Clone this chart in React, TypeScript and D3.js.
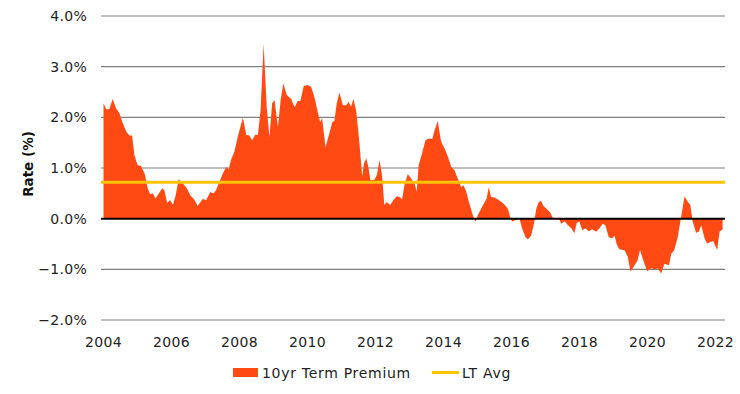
import React from "react";
import * as d3 from "d3";

// decimal years, paired with the 10yr term premium (%)
const years = [
  2004.0, 2004.08, 2004.17, 2004.27, 2004.37, 2004.47, 2004.57, 2004.67, 2004.76, 2004.84,
  2004.91, 2005.0, 2005.1, 2005.21, 2005.3, 2005.37, 2005.45, 2005.53, 2005.63, 2005.73,
  2005.79, 2005.87, 2005.96, 2006.04, 2006.12, 2006.21, 2006.33, 2006.45, 2006.55, 2006.68,
  2006.77, 2006.82, 2006.92, 2007.02, 2007.14, 2007.24, 2007.31, 2007.41, 2007.51, 2007.61,
  2007.68, 2007.75, 2007.85, 2007.95, 2008.1, 2008.2, 2008.29, 2008.37, 2008.47, 2008.54,
  2008.62, 2008.71, 2008.8, 2008.88, 2008.96, 2009.03, 2009.13, 2009.21, 2009.29, 2009.39,
  2009.52, 2009.62, 2009.71, 2009.79, 2009.89, 2010.01, 2010.11, 2010.21, 2010.3, 2010.37,
  2010.43, 2010.53, 2010.63, 2010.73, 2010.79, 2010.86, 2010.94, 2011.04, 2011.14, 2011.21,
  2011.28, 2011.35, 2011.43, 2011.51, 2011.61, 2011.66, 2011.73, 2011.79, 2011.85, 2011.97,
  2012.04, 2012.12, 2012.19, 2012.26, 2012.33, 2012.43, 2012.53, 2012.63, 2012.71, 2012.78,
  2012.85, 2012.95, 2013.05, 2013.15, 2013.21, 2013.27, 2013.37, 2013.47, 2013.57, 2013.67,
  2013.74, 2013.83, 2013.93, 2014.03, 2014.13, 2014.23, 2014.32, 2014.42, 2014.52, 2014.59,
  2014.67, 2014.76, 2014.86, 2014.94, 2015.01, 2015.11, 2015.21, 2015.27, 2015.33, 2015.4,
  2015.5, 2015.6, 2015.7, 2015.79, 2015.89, 2015.96, 2016.02, 2016.12, 2016.24, 2016.31,
  2016.41, 2016.48, 2016.58, 2016.66, 2016.73, 2016.8, 2016.87, 2016.94, 2017.04, 2017.14,
  2017.21, 2017.29, 2017.39, 2017.46, 2017.56, 2017.66, 2017.76, 2017.85, 2017.92, 2018.0,
  2018.08, 2018.18, 2018.27, 2018.37, 2018.49, 2018.59, 2018.68, 2018.76, 2018.86, 2018.96,
  2019.03, 2019.1, 2019.18, 2019.32, 2019.42, 2019.5, 2019.62, 2019.71, 2019.78, 2019.86,
  2019.99, 2020.11, 2020.21, 2020.3, 2020.4, 2020.5, 2020.63, 2020.7, 2020.79, 2020.89,
  2020.99, 2021.09, 2021.19, 2021.26, 2021.33, 2021.43, 2021.51, 2021.58, 2021.68, 2021.75,
  2021.85, 2021.93, 2022.05, 2022.12, 2022.21,
];

const premium = [
  2.28, 2.16, 2.16, 2.36, 2.18, 2.08, 1.88, 1.72, 1.64, 1.64,
  1.25, 1.06, 1.04, 0.89, 0.6, 0.48, 0.5, 0.4, 0.5, 0.6,
  0.56, 0.31, 0.37, 0.27, 0.45, 0.78, 0.7, 0.6, 0.46, 0.37,
  0.25, 0.3, 0.39, 0.37, 0.52, 0.5, 0.56, 0.73, 0.89, 1.02,
  0.97, 1.16, 1.32, 1.62, 1.99, 1.65, 1.64, 1.55, 1.66, 1.65,
  2.14, 3.45, 2.21, 1.6, 2.28, 2.34, 1.81, 2.34, 2.67, 2.44,
  2.36, 2.2, 2.32, 2.32, 2.62, 2.64, 2.6, 2.38, 2.11, 1.91,
  1.98, 1.41, 1.65, 1.91, 1.93, 2.28, 2.49, 2.24, 2.24, 2.31,
  2.21, 2.36, 2.14, 1.62, 0.83, 1.09, 1.19, 1.02, 0.76, 0.77,
  0.86, 1.16, 0.86, 0.27, 0.33, 0.27, 0.37, 0.44, 0.43, 0.38,
  0.66, 0.88, 0.79, 0.7, 0.53, 1.06, 1.29, 1.55, 1.58, 1.57,
  1.75, 1.93, 1.52, 1.39, 1.22, 1.02, 0.96, 0.79, 0.62, 0.66,
  0.53, 0.3, 0.07, -0.06, 0.07, 0.2, 0.33, 0.4, 0.62, 0.43,
  0.42, 0.38, 0.33, 0.28, 0.2, 0.04, -0.06, -0.02, -0.01, -0.19,
  -0.36, -0.41, -0.33, -0.1, 0.2, 0.33, 0.35, 0.25, 0.19, 0.12,
  0.02, 0.0, 0.02, -0.1, -0.05, -0.13, -0.19, -0.29, -0.08, -0.06,
  -0.23, -0.19, -0.25, -0.21, -0.26, -0.19, -0.1, -0.13, -0.36, -0.39,
  -0.33, -0.52, -0.61, -0.62, -0.75, -1.05, -0.92, -0.82, -0.62, -0.79,
  -1.04, -0.98, -1.0, -0.98, -1.08, -0.89, -0.92, -0.69, -0.62, -0.36,
  0.04, 0.44, 0.33, 0.27, -0.06, -0.28, -0.26, -0.13, -0.39, -0.49,
  -0.46, -0.44, -0.62, -0.26, -0.21,
];

const ltAvg = 0.72;

const yTicks = [-2, -1, 0, 1, 2, 3, 4];
const xTicks = [2004, 2006, 2008, 2010, 2012, 2014, 2016, 2018, 2020, 2022];
const legendLabels = ["10yr Term Premium", "LT Avg"];

const W = 740, H = 394;
const left = 101, right = 725, top = 16, bottom = 320;
const font = "'DejaVu Sans', sans-serif";

export default function App() {
  const x = d3.scaleLinear().domain([2004, 2022]).range([103.5, 715.5]);
  const y = d3.scaleLinear().domain([-2, 4]).range([bottom, top]);

  const data = years.map((yr, i) => ({ yr, v: premium[i] }));

  const area = d3.area<{ yr: number; v: number }>()
    .x(d => x(d.yr))
    .y0(y(0))
    .y1(d => y(d.v));

  const fmt = d3.format(".1f");

  return (
    <div style={{ position: "absolute", left: 0, top: 0 }}>
      <svg width={W} height={H} style={{ display: "block", fontFamily: font }}>
        {yTicks.map(t => (
          <g key={t}>
            {t !== 0 && (
              <line x1={left} x2={right} y1={y(t)} y2={y(t)} stroke="#7f7f7f" strokeWidth={1.2} />
            )}
            <text x={87} y={y(t)} dy="0.36em" textAnchor="end" fontSize={14} fill="#222" letterSpacing={0.3}>
              {fmt(t) + "%"}
            </text>
          </g>
        ))}
        <path d={area(data) || ""} fill="#FF4A14" />
        <line x1={left} x2={right} y1={y(0)} y2={y(0)} stroke="#000" strokeWidth={2} />
        <line x1={left} x2={right} y1={y(ltAvg)} y2={y(ltAvg)} stroke="#FFC400" strokeWidth={3} />
        {xTicks.map(t => (
          <text key={t} x={x(t)} y={347} textAnchor="middle" fontSize={14} fill="#222" letterSpacing={0.3}>
            {t}
          </text>
        ))}
        <text
          transform={`translate(33,${(top + bottom) / 2 - 4}) rotate(-90)`}
          textAnchor="middle"
          fontSize={13.5}
          fontWeight="bold"
          fill="#111"
        >
          Rate (%)
        </text>
        <g fontSize={14} fill="#222" letterSpacing={0.7}>
          <rect x={233} y={368} width={25} height={9} fill="#FF4A14" />
          <text x={262} y={378}>{legendLabels[0]}</text>
          <line x1={432} x2={459} y1={372.5} y2={372.5} stroke="#FFC400" strokeWidth={3} />
          <text x={462} y={378}>{legendLabels[1]}</text>
        </g>
      </svg>
    </div>
  );
}
